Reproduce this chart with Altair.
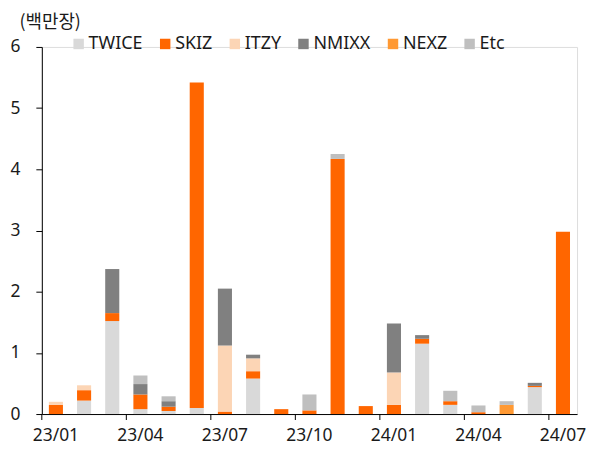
import altair as alt
import pandas as pd

months = ["23/01", "23/02", "23/03", "23/04", "23/05", "23/06", "23/07", "23/08",
          "23/09", "23/10", "23/11", "23/12", "24/01", "24/02", "24/03", "24/04",
          "24/05", "24/06", "24/07"]
label_months = ["23/01", "23/04", "23/07", "23/10", "24/01", "24/04", "24/07"]

series = ["TWICE", "SKIZ", "ITZY", "NMIXX", "NEXZ", "Etc"]
colors = ["#d9d9d9", "#ff6600", "#fcd5b5", "#808080", "#ff9933", "#bfbfbf"]

TWICE = [0.00, 0.22, 1.52, 0.08, 0.05, 0.10, 0.00, 0.58, 0.00, 0.00, 0.00, 0.00, 0.00, 1.15, 0.15, 0.00, 0.00, 0.44, 0.00]
SKIZ  = [0.15, 0.17, 0.13, 0.24, 0.07, 5.32, 0.04, 0.12, 0.08, 0.06, 4.17, 0.13, 0.15, 0.08, 0.06, 0.03, 0.00, 0.02, 2.98]
ITZY  = [0.05, 0.08, 0.00, 0.00, 0.00, 0.00, 1.08, 0.21, 0.00, 0.00, 0.00, 0.00, 0.53, 0.00, 0.00, 0.00, 0.00, 0.00, 0.00]
NMIXX = [0.00, 0.00, 0.72, 0.17, 0.09, 0.00, 0.93, 0.06, 0.00, 0.00, 0.00, 0.00, 0.80, 0.06, 0.00, 0.00, 0.00, 0.05, 0.00]
NEXZ  = [0.00, 0.00, 0.00, 0.00, 0.00, 0.00, 0.00, 0.00, 0.00, 0.00, 0.00, 0.00, 0.00, 0.00, 0.00, 0.00, 0.15, 0.00, 0.00]
Etc   = [0.00, 0.00, 0.00, 0.14, 0.08, 0.00, 0.00, 0.00, 0.00, 0.26, 0.08, 0.00, 0.00, 0.00, 0.17, 0.11, 0.06, 0.00, 0.00]

values = {"TWICE": TWICE, "SKIZ": SKIZ, "ITZY": ITZY, "NMIXX": NMIXX, "NEXZ": NEXZ, "Etc": Etc}

rows = []
for si, s in enumerate(series):
    for m, v in zip(months, values[s]):
        rows.append({"month": m, "series": s, "value": v, "idx": si})
df = pd.DataFrame(rows)
ticks_df = pd.DataFrame({"month": label_months})

FONT = "Noto Sans"
TXT = "#1a1a1a"

xscale = alt.Scale(domain=months, paddingInner=0, paddingOuter=0)
xaxis = alt.Axis(values=label_months, ticks=False, labelAngle=0,
                 labelPadding=13, labelFontSize=17.5, labelFont=FONT,
                 labelColor=TXT, domainColor="#000000", title=None,
                 grid=False, labelOverlap=False)

bars = alt.Chart(df).mark_bar(width=alt.RelativeBandSize(0.5)).encode(
    x=alt.X("month:N", scale=xscale, sort=months, axis=xaxis),
    y=alt.Y("value:Q", stack="zero",
            scale=alt.Scale(domain=[0, 6], nice=False),
            axis=alt.Axis(values=[0, 1, 2, 3, 4, 5, 6], tickSize=6, tickColor="#000000",
                          domainColor="#000000", labelPadding=16, labelFontSize=17.5,
                          labelFont=FONT, labelColor=TXT, grid=False,
                          title="(백만장)", titleAngle=0, titleAlign="left",
                          titleBaseline="middle", titleX=-23, titleY=-25,
                          titleFont="Noto Sans CJK KR", titleFontSize=18,
                          titleFontWeight="normal", titleColor=TXT)),
    color=alt.Color("series:N", scale=alt.Scale(domain=series, range=colors),
                    legend=alt.Legend(title=None, orient="none", direction="horizontal",
                                      columns=6, legendX=28, legendY=-12,
                                      symbolType="square", symbolSize=110,
                                      symbolStrokeWidth=0, labelFontSize=18,
                                      labelFont=FONT, labelColor=TXT, labelOffset=1,
                                      columnPadding=13)),
    order=alt.Order("idx:Q", sort="ascending"),
)

tick_rules = alt.Chart(ticks_df).mark_rule(color="#000000", strokeWidth=1).encode(
    x=alt.X("month:N", scale=xscale, sort=months, bandPosition=0, axis=xaxis),
    y=alt.value(369),
    y2=alt.value(375),
)

chart = alt.layer(bars, tick_rules).properties(
    width=538, height=369,
    autosize=alt.AutoSizeParams(type="none"),
    padding={"left": 34, "top": 38, "right": 10, "bottom": 36},
).configure_view(stroke=None).configure(background="white")

chart.save("out.html", embed_options={"renderer": "svg", "actions": False})
